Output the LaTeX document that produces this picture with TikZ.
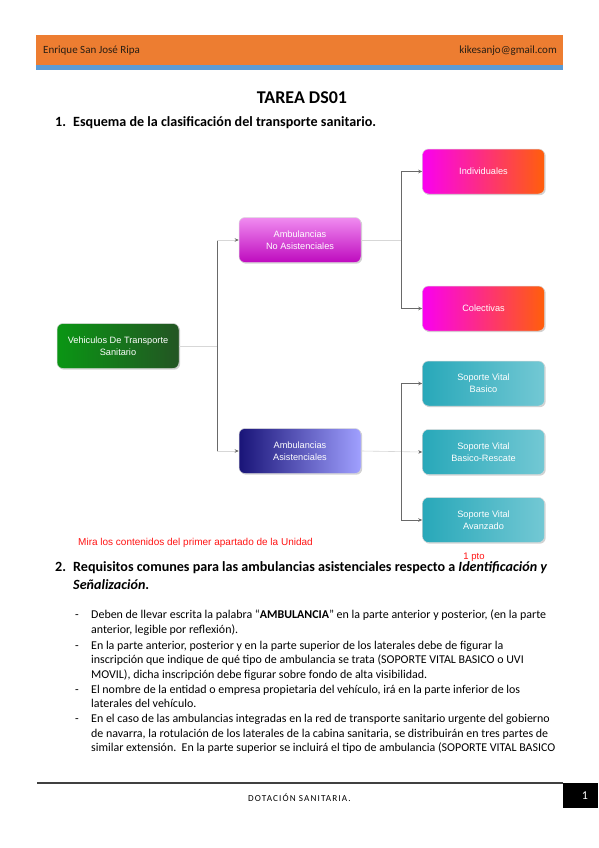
\documentclass[tikz,border=0pt]{standalone}
\usepackage{fontspec}
\setmainfont{Carlito}
\newfontfamily\arialf{Liberation Sans}
\newfontfamily\footf[LetterSpace=12]{Carlito}
\usetikzlibrary{arrows.meta,shadows}
\definecolor{hdrorange}{RGB}{237,125,49}
\definecolor{hdrblue}{RGB}{91,155,213}
\definecolor{hdrtext}{RGB}{40,30,20}
\definecolor{grA}{RGB}{10,150,20}
\definecolor{grB}{RGB}{35,85,35}
\definecolor{pkA}{RGB}{240,140,240}
\definecolor{pkB}{RGB}{190,10,190}
\definecolor{mgA}{RGB}{250,0,240}
\definecolor{mgB}{RGB}{255,95,10}
\definecolor{nvA}{RGB}{25,20,120}
\definecolor{nvB}{RGB}{160,160,255}
\definecolor{tlA}{RGB}{40,168,185}
\definecolor{tlB}{RGB}{115,200,212}
\definecolor{lineD}{RGB}{105,105,105}
\definecolor{lineF}{RGB}{215,215,215}
\definecolor{redtxt}{RGB}{255,20,20}
\begin{document}
\begin{tikzpicture}[x=1pt,y=-1pt,
  box/.style={rounded corners=6pt, minimum width=122pt, minimum height=45pt,
    inner sep=0pt, align=center, text=white, draw=white!70!gray, line width=0.5pt,
    font=\arialf\fontsize{9.2}{12.4}\selectfont,
    drop shadow={shadow xshift=1.2pt, shadow yshift=-1.2pt, opacity=0.35}},
  greenbox/.style={box, left color=grA, right color=grB},
  pinkbox/.style={box, top color=pkA, bottom color=pkB},
  magbox/.style={box, left color=mgA, right color=mgB},
  navybox/.style={box, left color=nvA, right color=nvB},
  tealbox/.style={box, left color=tlA, right color=tlB},
  trunk/.style={draw=lineD, line width=0.8pt},
  faint/.style={draw=lineF, line width=0.6pt},
  tip/.style={-{Stealth[length=4pt,width=3.5pt,color=lineD]}},
  bodytxt/.style={anchor=base west, inner sep=0pt, font=\fontsize{11.95}{13}\selectfont},
  headtxt/.style={anchor=base west, inner sep=0pt, font=\bfseries\fontsize{14.1}{16}\selectfont},
  dashtxt/.style={anchor=base west, inner sep=0pt, font=\fontsize{11.95}{13}\selectfont}
]
\useasboundingbox (0,0) rectangle (599,848);
\fill[white] (0,0) rectangle (599,848);

% header
\fill[hdrorange] (36,35) rectangle (563,65);
\fill[hdrblue] (36,65) rectangle (563,70);
\node[anchor=west, inner sep=0pt, text=hdrtext, font=\fontsize{11}{12}\selectfont] (author) at (43,50.5) {Enrique San José Ripa};
\node[anchor=east, inner sep=0pt, text=hdrtext, font=\fontsize{11}{12}\selectfont] (mail) at (557,50.5) {kikesanjo@gmail.com};

% titles
\node[anchor=base, inner sep=0pt, font=\bfseries\fontsize{18}{20}\selectfont] (title) at (302,103.5) {TAREA DS01};
\node[headtxt] (n1) at (55,126) {1.};
\node[headtxt] (h1) at (73,126) {Esquema de la clasificación del transporte sanitario.};

% diagram boxes
\node[greenbox] (veh) at (118,346) {Vehiculos De Transporte\\Sanitario};
\node[pinkbox] (noas) at (300,240) {Ambulancias\\No Asistenciales};
\node[navybox] (asis) at (300,451) {Ambulancias\\Asistenciales};
\node[magbox] (ind) at (483.5,171.5) {Individuales};
\node[magbox] (col) at (483.5,308.5) {Colectivas};
\node[tealbox] (svb) at (483.5,383.5) {Soporte Vital\\Basico};
\node[tealbox] (svbr) at (483.5,452) {Soporte Vital\\Basico-Rescate};
\node[tealbox] (sva) at (483.5,520) {Soporte Vital\\Avanzado};

% junctions
\coordinate (j0) at (217,346);
\coordinate (t1) at (217,240);
\coordinate (b1) at (217,451);
\coordinate (j2) at (401,240);
\coordinate (t2) at (401,171.5);
\coordinate (b2) at (401,308.5);
\coordinate (t3) at (401,383.5);
\coordinate (b3) at (401,520);

% connectors
\draw[faint] (veh.east) -- (j0);
\draw[trunk] (t1) -- (b1);
\draw[faint, tip] (t1) -- (noas.west);
\draw[faint, tip] (b1) -- (asis.west);

\draw[faint] (noas.east) -- (j2);
\draw[trunk] (t2) -- (b2);
\draw[trunk, tip] (t2) -- (ind.west);
\draw[trunk, tip] (b2) -- (col.west);

\draw[faint, tip] (asis.east) -- (svbr.west);
\draw[trunk] (t3) -- (b3);
\draw[trunk, tip] (t3) -- (svb.west);
\draw[trunk, tip] (b3) -- (sva.west);

% red notes
\node[anchor=west, inner sep=0pt, text=redtxt, font=\arialf\fontsize{10}{11}\selectfont] (note) at (78,543) {Mira los contenidos del primer apartado de la Unidad};
\node[anchor=center, inner sep=0pt, text=redtxt, font=\arialf\fontsize{9.5}{11}\selectfont] (pto) at (474,557) {1 pto};

% section 2
\node[headtxt] (n2) at (55,571.5) {2.};
\node[headtxt] (h2a) at (73,571.5) {Requisitos comunes para las ambulancias asistenciales respecto a \textit{Identificación y}};
\node[headtxt] (h2b) at (73,589) {\textit{Señalización}.};

\node[dashtxt] (d1) at (75,618) {-};
\node[bodytxt] (l1) at (91,618) {Deben de llevar escrita la palabra “\textbf{AMBULANCIA}” en la parte anterior y posterior, (en la parte};
\node[bodytxt] (l2) at (91,633) {anterior, legible por reflexión).};
\node[dashtxt] (d2) at (75,649) {-};
\node[bodytxt] (l3) at (91,649) {En la parte anterior, posterior y en la parte superior de los laterales debe de figurar la};
\node[bodytxt] (l4) at (91,663) {inscripción que indique de qué tipo de ambulancia se trata (SOPORTE VITAL BASICO o UVI};
\node[bodytxt] (l5) at (91,678) {MOVIL), dicha inscripción debe figurar sobre fondo de alta visibilidad.};
\node[dashtxt] (d3) at (75,693) {-};
\node[bodytxt] (l6) at (91,693) {El nombre de la entidad o empresa propietaria del vehículo, irá en la parte inferior de los};
\node[bodytxt] (l7) at (91,707) {laterales del vehículo.};
\node[dashtxt] (d4) at (75,722) {-};
\node[bodytxt] (l8) at (91,722) {En el caso de las ambulancias integradas en la red de transporte sanitario urgente del gobierno};
\node[bodytxt] (l9) at (91,737) {de navarra, la rotulación de los laterales de la cabina sanitaria, se distribuirán en tres partes de};
\node[bodytxt] (l10) at (91,751) {similar extensión.\ \ En la parte superior se incluirá el tipo de ambulancia (SOPORTE VITAL BASICO};

% footer
\coordinate (fl) at (37,783);
\coordinate (fr) at (563,783);
\draw[draw=black!75, line width=1.8pt] (fl) -- (fr);
\fill[black] (563,783) rectangle (598,808);
\node[anchor=center, inner sep=0pt, text=white, font=\fontsize{12}{13}\selectfont] (pnum) at (585,796) {1};
\node[anchor=west, inner sep=0pt, font=\footf\fontsize{9.2}{10}\selectfont] (foot) at (248,798) {DOTACIÓN SANITARIA.};
\end{tikzpicture}
\end{document}
